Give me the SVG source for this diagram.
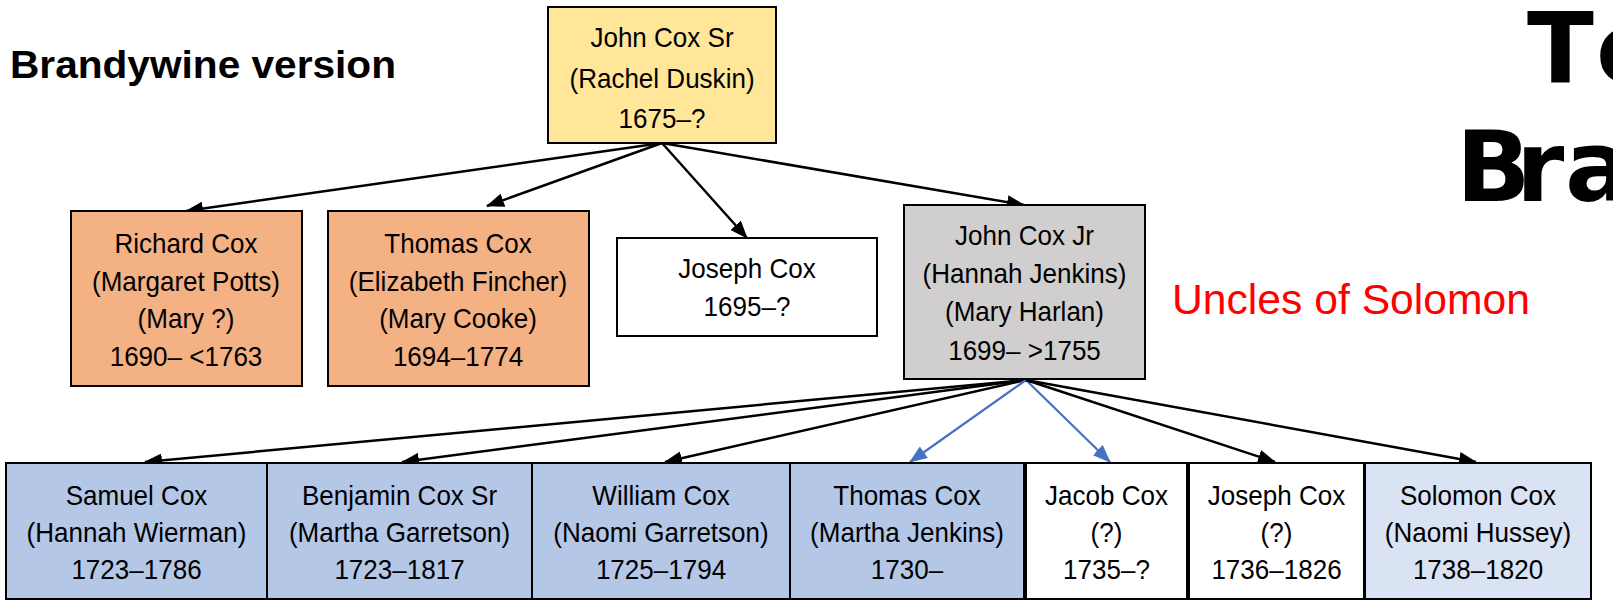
<svg xmlns="http://www.w3.org/2000/svg" width="1613" height="606" viewBox="0 0 1613 606">
<style>
  .box { stroke: #000; stroke-width: 2; }
  .yellow { fill: #FFE699; }
  .orange { fill: #F4B183; }
  .gray { fill: #D0CECE; }
  .blue { fill: #B4C7E7; }
  .lblue { fill: #DAE3F3; }
  .white { fill: #FFFFFF; }
  .lbl { font-family: "Liberation Sans", Arial, sans-serif; font-size: 28px; fill: #000; text-anchor: middle; }
  .edge { stroke: #000; stroke-width: 2.5; fill: none; marker-end: url(#ah); }
  .edge-blue { stroke: #4472C4; stroke-width: 2.2; fill: none; marker-end: url(#ahb); }
  .title { font-family: "Liberation Sans", Arial, sans-serif; font-weight: bold; font-size: 38px; fill: #000; }
  .note { font-family: "Liberation Sans", Arial, sans-serif; font-size: 43px; fill: #FF0000; }
  .big { font-family: "DejaVu Sans", sans-serif; font-weight: bold; font-size: 98px; fill: #000; }
</style>
<defs>
  <marker id="ah" markerUnits="userSpaceOnUse" markerWidth="18" markerHeight="14" refX="17" refY="7" orient="auto">
    <path d="M0,0 L18,7 L0,14 z" fill="#000"/>
  </marker>
  <marker id="ahb" markerUnits="userSpaceOnUse" markerWidth="18" markerHeight="14" refX="17" refY="7" orient="auto">
    <path d="M0,0 L18,7 L0,14 z" fill="#4472C4"/>
  </marker>
</defs>
<rect x="0" y="0" width="1613" height="606" fill="#FFFFFF"/>

<text class="title" x="10" y="78" textLength="386" lengthAdjust="spacingAndGlyphs">Brandywine version</text>
<text class="note" x="1172" y="314" textLength="358" lengthAdjust="spacingAndGlyphs">Uncles of Solomon</text>
<text class="big" x="1527 1596" y="83">Te</text>
<text class="big" x="1456 1516 1565" y="201">Bra</text>

<g id="connectors">
  <line class="edge" x1="662" y1="143" x2="186" y2="211"/>
  <line class="edge" x1="662" y1="143" x2="487" y2="206"/>
  <line class="edge" x1="662" y1="143" x2="747" y2="238"/>
  <line class="edge" x1="662" y1="143" x2="1024" y2="205"/>
  <line class="edge" x1="1026" y1="380" x2="145" y2="462"/>
  <line class="edge" x1="1026" y1="380" x2="402" y2="462"/>
  <line class="edge" x1="1026" y1="380" x2="665" y2="462"/>
  <line class="edge-blue" x1="1026" y1="380" x2="910" y2="462"/>
  <line class="edge-blue" x1="1026" y1="380" x2="1110" y2="462"/>
  <line class="edge" x1="1026" y1="380" x2="1275" y2="462"/>
  <line class="edge" x1="1026" y1="380" x2="1476" y2="462"/>
</g>

<g id="john-cox-sr">
  <rect class="box yellow" x="548" y="7" width="228" height="136"/>
  <g transform="translate(662,0) scale(0.93,1)">
    <text class="lbl" x="0" y="47">John Cox Sr</text>
    <text class="lbl" x="0" y="88">(Rachel Duskin)</text>
    <text class="lbl" x="0" y="128">1675–?</text>
  </g>
</g>

<g id="richard-cox">
  <rect class="box orange" x="71" y="211" width="231" height="175"/>
  <g transform="translate(186,0) scale(0.93,1)">
    <text class="lbl" x="0" y="253">Richard Cox</text>
    <text class="lbl" x="0" y="291">(Margaret Potts)</text>
    <text class="lbl" x="0" y="328">(Mary ?)</text>
    <text class="lbl" x="0" y="366">1690– &lt;1763</text>
  </g>
</g>

<g id="thomas-cox-1">
  <rect class="box orange" x="328" y="211" width="261" height="175"/>
  <g transform="translate(458,0) scale(0.93,1)">
    <text class="lbl" x="0" y="253">Thomas Cox</text>
    <text class="lbl" x="0" y="291">(Elizabeth Fincher)</text>
    <text class="lbl" x="0" y="328">(Mary Cooke)</text>
    <text class="lbl" x="0" y="366">1694–1774</text>
  </g>
</g>

<g id="joseph-cox-1">
  <rect class="box white" x="617" y="238" width="260" height="98"/>
  <g transform="translate(747,0) scale(0.93,1)">
    <text class="lbl" x="0" y="278">Joseph Cox</text>
    <text class="lbl" x="0" y="316">1695–?</text>
  </g>
</g>

<g id="john-cox-jr">
  <rect class="box gray" x="904" y="205" width="241" height="174"/>
  <g transform="translate(1024.5,0) scale(0.93,1)">
    <text class="lbl" x="0" y="245">John Cox Jr</text>
    <text class="lbl" x="0" y="283">(Hannah Jenkins)</text>
    <text class="lbl" x="0" y="321">(Mary Harlan)</text>
    <text class="lbl" x="0" y="360">1699– &gt;1755</text>
  </g>
</g>

<g id="samuel-cox">
  <rect class="box blue" x="6" y="463" width="261" height="136"/>
  <g transform="translate(136.5,0) scale(0.93,1)">
    <text class="lbl" x="0" y="505">Samuel Cox</text>
    <text class="lbl" x="0" y="542">(Hannah Wierman)</text>
    <text class="lbl" x="0" y="579">1723–1786</text>
  </g>
</g>

<g id="benjamin-cox">
  <rect class="box blue" x="267" y="463" width="265" height="136"/>
  <g transform="translate(399.5,0) scale(0.93,1)">
    <text class="lbl" x="0" y="505">Benjamin Cox Sr</text>
    <text class="lbl" x="0" y="542">(Martha Garretson)</text>
    <text class="lbl" x="0" y="579">1723–1817</text>
  </g>
</g>

<g id="william-cox">
  <rect class="box blue" x="532" y="463" width="258" height="136"/>
  <g transform="translate(661,0) scale(0.93,1)">
    <text class="lbl" x="0" y="505">William Cox</text>
    <text class="lbl" x="0" y="542">(Naomi Garretson)</text>
    <text class="lbl" x="0" y="579">1725–1794</text>
  </g>
</g>

<g id="thomas-cox-2">
  <rect class="box blue" x="790" y="463" width="234" height="136"/>
  <g transform="translate(907,0) scale(0.93,1)">
    <text class="lbl" x="0" y="505">Thomas Cox</text>
    <text class="lbl" x="0" y="542">(Martha Jenkins)</text>
    <text class="lbl" x="0" y="579">1730–</text>
  </g>
</g>

<g id="jacob-cox">
  <rect class="box white" x="1026" y="463" width="161" height="136"/>
  <g transform="translate(1106.5,0) scale(0.93,1)">
    <text class="lbl" x="0" y="505">Jacob Cox</text>
    <text class="lbl" x="0" y="542">(?)</text>
    <text class="lbl" x="0" y="579">1735–?</text>
  </g>
</g>

<g id="joseph-cox-2">
  <rect class="box white" x="1189" y="463" width="175" height="136"/>
  <g transform="translate(1276.5,0) scale(0.93,1)">
    <text class="lbl" x="0" y="505">Joseph Cox</text>
    <text class="lbl" x="0" y="542">(?)</text>
    <text class="lbl" x="0" y="579">1736–1826</text>
  </g>
</g>

<g id="solomon-cox">
  <rect class="box lblue" x="1365" y="463" width="226" height="136"/>
  <g transform="translate(1478,0) scale(0.93,1)">
    <text class="lbl" x="0" y="505">Solomon Cox</text>
    <text class="lbl" x="0" y="542">(Naomi Hussey)</text>
    <text class="lbl" x="0" y="579">1738–1820</text>
  </g>
</g>
</svg>
